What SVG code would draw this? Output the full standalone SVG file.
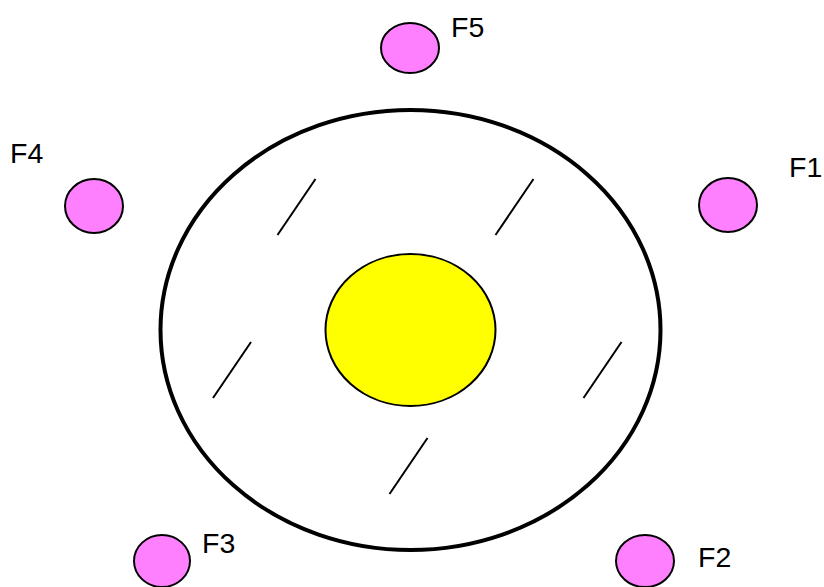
<svg xmlns="http://www.w3.org/2000/svg" width="824" height="587" viewBox="0 0 824 587">
<style>
.sat{fill:#ff80ff;stroke:#000;stroke-width:2}
.lbl{font-family:"Liberation Sans",Arial,sans-serif;font-size:28.5px;fill:#000}
.hatch{stroke:#000;stroke-width:2;fill:none}
</style>
<rect width="824" height="587" fill="#fff"/>
<g id="outer"><ellipse cx="410.5" cy="330" rx="250" ry="220" fill="none" stroke="#000" stroke-width="4"/></g>
<g id="core"><ellipse cx="410.5" cy="330" rx="85" ry="76" fill="#ffff00" stroke="#000" stroke-width="2"/></g>
<g id="hatches">
<line class="hatch" x1="277.5" y1="235" x2="315.5" y2="179"/>
<line class="hatch" x1="495.5" y1="235" x2="533.5" y2="179"/>
<line class="hatch" x1="213" y1="398" x2="251" y2="342"/>
<line class="hatch" x1="583.5" y1="398" x2="621.5" y2="342"/>
<line class="hatch" x1="389.5" y1="494" x2="427.5" y2="438"/>
</g>
<g id="F5"><ellipse class="sat" cx="410" cy="48" rx="29" ry="25"/><text class="lbl" x="451" y="37">F5</text></g>
<g id="F4"><ellipse class="sat" cx="94" cy="206" rx="29" ry="27"/><text class="lbl" x="10" y="163">F4</text></g>
<g id="F1"><ellipse class="sat" cx="728" cy="205" rx="29" ry="27"/><text class="lbl" x="789" y="177">F1</text></g>
<g id="F3"><ellipse class="sat" cx="162" cy="561" rx="28" ry="26"/><text class="lbl" x="202" y="553">F3</text></g>
<g id="F2"><ellipse class="sat" cx="645" cy="561" rx="29" ry="26"/><text class="lbl" x="698" y="567">F2</text></g>
</svg>
